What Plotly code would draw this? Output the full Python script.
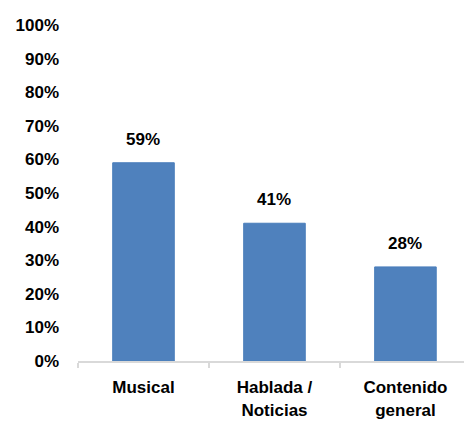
import plotly.graph_objects as go

categories = ["Musical", "Hablada /<br>Noticias", "Contenido<br>general"]
values = [59, 41, 28]
y_ticks = list(range(0, 101, 10))
y_tick_labels = [f"{v}%" for v in y_ticks]

FONT = "Liberation Sans Narrow, Arial Narrow, Liberation Sans, Arial, sans-serif"
BAR_COLOR = "#4F81BD"

fig = go.Figure()
fig.add_trace(go.Bar(
    x=categories,
    y=values,
    marker=dict(color=BAR_COLOR, line=dict(color="#4A7EBB", width=1)),
    width=0.47,
    hoverinfo="skip",
))

for cat, val in zip(categories, values):
    fig.add_annotation(
        x=cat, y=val, text=f"<b>{val}%</b>",
        showarrow=False, yanchor="bottom", yshift=12,
        font=dict(family=FONT, size=17, color="#000000"),
    )

fig.update_layout(
    width=464, height=422,
    margin=dict(l=78, r=0, t=25, b=61),
    paper_bgcolor="white", plot_bgcolor="white",
    showlegend=False,
    font=dict(family=FONT, size=17, color="#000000"),
    xaxis=dict(
        type="category",
        range=[-0.5, 2.447],
        showline=True, linecolor="#D9D9D9", linewidth=2,
        ticks="outside", tickson="boundaries", ticklen=5, tickcolor="#D9D9D9", tickwidth=2,
        tickfont=dict(family=FONT, size=17, color="#000000", weight="bold"),
        showgrid=False, zeroline=False,
        ticklabelstandoff=10,
    ),
    yaxis=dict(
        range=[0, 100],
        tickvals=y_ticks, ticktext=y_tick_labels,
        tickfont=dict(family=FONT, size=17, color="#000000", weight="bold"),
        showgrid=False, zeroline=False, showline=False,
        ticks="", ticklabelstandoff=18,
    ),
)

fig.write_html("out.html")
